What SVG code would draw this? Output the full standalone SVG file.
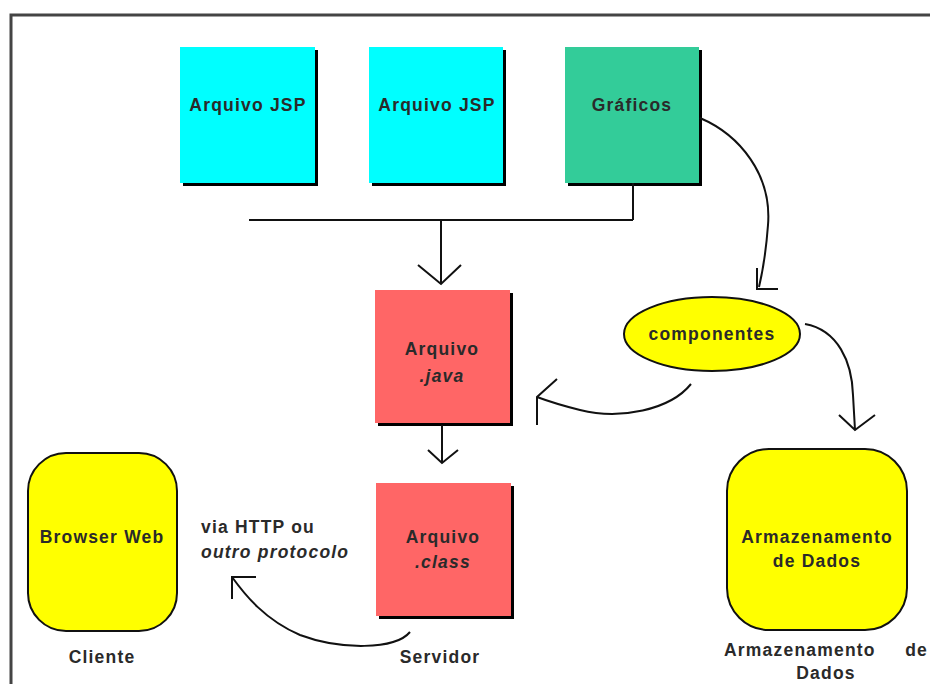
<svg xmlns="http://www.w3.org/2000/svg" width="930" height="684" viewBox="0 0 930 684">
<style>
.t{font-family:"Liberation Sans",Arial,sans-serif;font-weight:bold;font-size:17.5px;fill:#2a2a2a;letter-spacing:1.2px}
.i{font-style:italic}
.c{fill:none;stroke:#111;stroke-width:2}
.sh{fill:#000}
</style>
<rect width="930" height="684" fill="#fff"/>
<path d="M11,684 L11,15 L930,15" fill="none" stroke="#444" stroke-width="3"/>
<g id="jsp1">
<rect class="sh" x="183" y="50" width="135" height="136"/>
<rect x="180" y="47" width="135" height="136" fill="#00FFFF"/>
<text class="t" x="248" y="111" text-anchor="middle">Arquivo JSP</text>
</g>
<g id="jsp2">
<rect class="sh" x="372" y="50" width="134" height="136"/>
<rect x="369" y="47" width="134" height="136" fill="#00FFFF"/>
<text class="t" x="437" y="111" text-anchor="middle">Arquivo JSP</text>
</g>
<g id="graficos">
<rect class="sh" x="568" y="50" width="134" height="136"/>
<rect x="565" y="47" width="134" height="136" fill="#33CC99"/>
<text class="t" x="632" y="111" text-anchor="middle">Gráficos</text>
</g>
<g id="java">
<rect class="sh" x="378" y="293" width="135" height="133"/>
<rect x="375" y="290" width="135" height="133" fill="#FF6666"/>
<text class="t" x="442" y="355" text-anchor="middle">Arquivo</text>
<text class="t i" x="442" y="382" text-anchor="middle">.java</text>
</g>
<g id="class">
<rect class="sh" x="379" y="486" width="135" height="133"/>
<rect x="376" y="483" width="135" height="133" fill="#FF6666"/>
<text class="t" x="443" y="543" text-anchor="middle">Arquivo</text>
<text class="t i" x="443" y="568" text-anchor="middle">.class</text>
<text class="t" x="440" y="663" text-anchor="middle">Servidor</text>
</g>
<g id="componentes">
<ellipse cx="712" cy="334" rx="88" ry="37" fill="#FFFF00" stroke="#111" stroke-width="2"/>
<text class="t" x="712" y="340" text-anchor="middle">componentes</text>
</g>
<g id="browser">
<rect x="28" y="453" width="149" height="178" rx="38" ry="38" fill="#FFFF00" stroke="#111" stroke-width="2"/>
<text class="t" x="102" y="543" text-anchor="middle">Browser Web</text>
<text class="t" x="102" y="663" text-anchor="middle">Cliente</text>
</g>
<g id="armazenamento">
<rect x="727" y="449" width="180" height="181" rx="42" ry="42" fill="#FFFF00" stroke="#111" stroke-width="2"/>
<text class="t" x="817" y="543" text-anchor="middle">Armazenamento</text>
<text class="t" x="817" y="567" text-anchor="middle">de Dados</text>
<text class="t" x="724" y="656">Armazenamento</text>
<text class="t" x="928" y="656" text-anchor="end">de</text>
<text class="t" x="826" y="679" text-anchor="middle">Dados</text>
</g>
<g id="protocolo">
<text class="t" x="201" y="533">via HTTP ou</text>
<text class="t i" x="201" y="558">outro protocolo</text>
</g>
<g id="connectors">
<path class="c" d="M249,220 L633,220 M633,183 L633,220"/>
<path class="c" d="M441,220 L441,284 M418,265 L441,284 L461,265"/>
<path class="c" d="M700,118 C740,135 772,175 768,225 C766,252 763,270 759,287 M757,268 L757,289 L778,289"/>
<path class="c" d="M691,384 C670,410 620,420 580,410 C560,405 545,400 537,397 M557,379 L537,397 L537,425"/>
<path class="c" d="M805,324 C838,330 852,362 853,395 L855,430 M839,415 L855,430 L875,415"/>
<path class="c" d="M442,425 L442,463 M428,450 L442,463 L458,450"/>
<path class="c" d="M410,632 C395,650 340,650 300,635 C265,620 245,595 232,577 M256,577 L232,577 L232,599"/>
</g>
</svg>
